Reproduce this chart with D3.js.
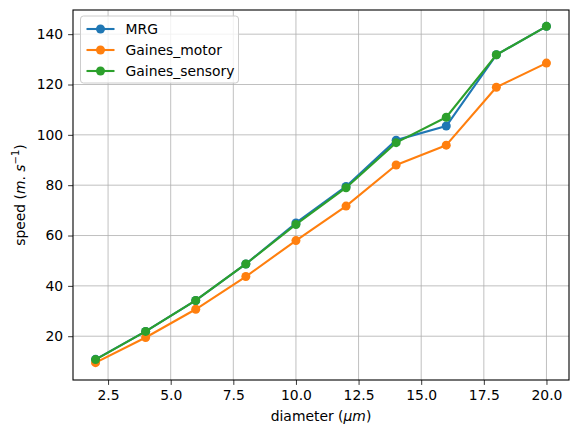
<!DOCTYPE html>
<meta charset="utf-8">
<script src="https://d3js.org/d3.v7.min.js"></script>
<style>
  body { margin: 0; background: #fff; }
  text { font-family: "DejaVu Sans", sans-serif; }
</style>
<div id="chart"></div>
<script>
    // diameters (um) and conduction speeds (m/s)
    const diameters = [2, 4, 6, 8, 10, 12, 14, 16, 18, 20];
    const mrg = [10.8, 21.9, 34.2, 48.7, 65.0, 79.5, 97.9, 103.5, 131.8, 143.1];
    const gainesMotor = [9.5, 19.5, 30.7, 43.7, 58.0, 71.7, 88.0, 95.9, 118.9, 128.5];
    const gainesSensory = [10.7, 21.9, 34.2, 48.7, 64.4, 79.0, 96.9, 107.0, 131.8, 143.1];
    const seriesNames = ["MRG", "Gaines_motor", "Gaines_sensory"];
    const colors = ["#1f77b4", "#ff7f0e", "#2ca02c"];
    const xTicks = [2.5, 5.0, 7.5, 10.0, 12.5, 15.0, 17.5, 20.0];
    const yTicks = [20, 40, 60, 80, 100, 120, 140];

    const W = 579, H = 436;
    const margin = {top: 10, bottom: 56, left: 73, right: 10},
        width = W - margin.left - margin.right,
        height = H - margin.top - margin.bottom;

    const svg = d3.select("#chart")
    .append("svg")
        .attr("width", W)
        .attr("height", H)
    .append("g")
        .attr("transform", `translate(${margin.left},${margin.top})`);

    const x = d3.scaleLinear()
        .domain([1.1, 20.9])
        .range([0, width]);
    const y = d3.scaleLinear()
        .domain([2.6, 149.6])
        .range([height, 0]);

    // grid
    svg.append("g")
        .selectAll("line")
        .data(xTicks)
        .join("line")
            .attr("x1", d => x(d)).attr("x2", d => x(d))
            .attr("y1", 0).attr("y2", height)
            .attr("stroke", "#b0b0b0").attr("stroke-width", 0.8);
    svg.append("g")
        .selectAll("line")
        .data(yTicks)
        .join("line")
            .attr("y1", d => y(d)).attr("y2", d => y(d))
            .attr("x1", 0).attr("x2", width)
            .attr("stroke", "#b0b0b0").attr("stroke-width", 0.8);

    // axes
    const xAxis = svg.append("g")
        .attr("transform", `translate(0,${height})`)
        .call(d3.axisBottom(x).tickValues(xTicks).tickFormat(d3.format(".1f")).tickSizeOuter(0).tickSize(4.9).tickPadding(4.9));
    const yAxis = svg.append("g")
        .call(d3.axisLeft(y).tickValues(yTicks).tickSizeOuter(0).tickSize(4.9).tickPadding(4.9));
    svg.selectAll(".domain").remove();
    svg.selectAll(".tick text")
        .attr("font-family", "DejaVu Sans")
        .attr("font-size", 13.9)
        .attr("fill", "#000");
    svg.selectAll(".tick line").attr("stroke", "#000").attr("stroke-width", 0.8);

    // series
    const allSeries = [mrg, gainesMotor, gainesSensory];
    const line = d3.line()
        .x((d, i) => x(diameters[i]))
        .y(d => y(d));
    allSeries.forEach(function(vals, k) {
        const g = svg.append("g");
        g.append("path")
            .attr("d", line(vals))
            .attr("fill", "none")
            .attr("stroke", colors[k])
            .attr("stroke-width", 2.1)
            .attr("stroke-linejoin", "round")
            .attr("stroke-linecap", "square");
        g.selectAll("circle")
            .data(vals)
            .join("circle")
                .attr("cx", (d, i) => x(diameters[i]))
                .attr("cy", d => y(d))
                .attr("r", 4.5)
                .attr("fill", colors[k]);
    });

    // frame
    svg.append("rect")
        .attr("width", width).attr("height", height)
        .attr("fill", "none").attr("stroke", "#000").attr("stroke-width", 1.1);

    // legend
    const leg = svg.append("g").attr("transform", "translate(7.5,6)");
    leg.append("rect")
        .attr("width", 158).attr("height", 67).attr("rx", 3)
        .attr("fill", "#fff").attr("fill-opacity", 0.8)
        .attr("stroke", "#cccccc").attr("stroke-width", 1);
    seriesNames.forEach(function(name, k) {
        const yy = 13 + k * 21;
        leg.append("line")
            .attr("x1", 6).attr("x2", 34).attr("y1", yy).attr("y2", yy)
            .attr("stroke", colors[k]).attr("stroke-width", 2.1);
        leg.append("circle")
            .attr("cx", 20).attr("cy", yy).attr("r", 4.5).attr("fill", colors[k]);
        leg.append("text")
            .attr("x", 45).attr("y", yy).attr("dy", "0.35em")
            .attr("font-size", 13.9).text(name);
    });

    // axis labels
    const xl = svg.append("text")
        .attr("x", width / 2).attr("y", height + 41)
        .attr("text-anchor", "middle").attr("font-size", 13.9);
    xl.append("tspan").text("diameter (");
    xl.append("tspan").attr("font-style", "italic").text("\u03bcm");
    xl.append("tspan").text(")");

    const yl = svg.append("text")
        .attr("transform", `translate(${-48},${height / 2}) rotate(-90)`)
        .attr("text-anchor", "middle").attr("font-size", 13.9);
    yl.append("tspan").text("speed (");
    yl.append("tspan").attr("font-style", "italic").text("m");
    yl.append("tspan").text(". ");
    yl.append("tspan").attr("font-style", "italic").text("s");
    yl.append("tspan").attr("dy", -6).attr("font-size", 10).text("\u22121");
    yl.append("tspan").attr("dy", 6).text(")");
</script>
